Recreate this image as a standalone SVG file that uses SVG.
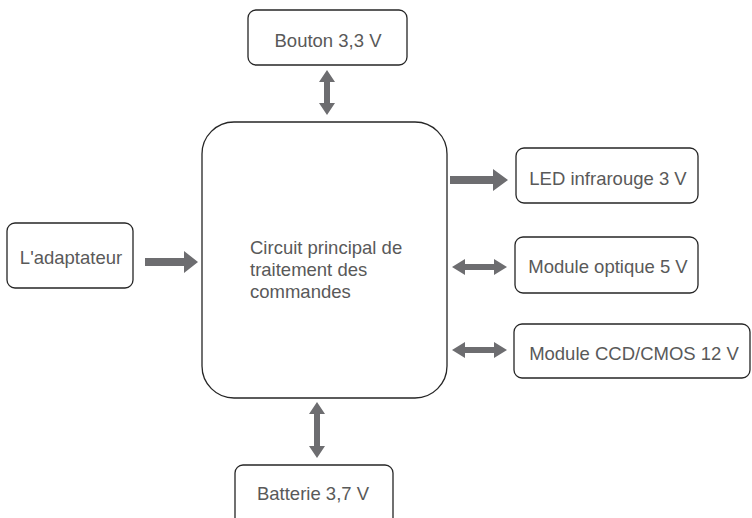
<svg xmlns="http://www.w3.org/2000/svg" width="752" height="518" viewBox="0 0 752 518">
  <style>
    .box { fill: #ffffff; stroke: #262626; stroke-width: 1.3; }
    .lbl { font-family: "Liberation Sans", Arial, sans-serif; font-size: 18.5px; fill: #595959; }
    .mid { text-anchor: middle; }
    .arrow { fill: #6d6d70; stroke: none; }
  </style>
  <rect width="752" height="518" fill="#ffffff"/>

  <g id="connectors">
    <!-- Bouton <-> main -->
    <path class="arrow" d="M327,70 L335,82 H330 V103 H335 L327,115 L319,103 H324 V82 H319 Z"/>
    <!-- adaptateur -> main -->
    <path class="arrow" d="M145,258 H184 V251 L198,262 L184,273 V266 H145 Z"/>
    <!-- main -> LED -->
    <path class="arrow" d="M450,176 H493 V169 L508,180 L493,191 V184 H450 Z"/>
    <!-- main <-> module optique -->
    <path class="arrow" d="M452,267 L465,259 V264 H494 V259 L507,267 L494,275 V270 H465 V275 Z"/>
    <!-- main <-> CCD/CMOS -->
    <path class="arrow" d="M452,350 L465,342 V347 H494 V342 L507,350 L494,358 V353 H465 V358 Z"/>
    <!-- main <-> batterie -->
    <path class="arrow" d="M317,402 L325,414 H320 V446 H325 L317,458 L309,446 H314 V414 H309 Z"/>
  </g>

  <g id="main">
    <rect class="box" x="202" y="122" width="245" height="276" rx="32" ry="32"/>
    <text class="lbl" x="250" y="254">Circuit principal de</text>
    <text class="lbl" x="250" y="276">traitement des</text>
    <text class="lbl" x="250" y="298">commandes</text>
  </g>

  <g id="bouton">
    <rect class="box" x="248" y="10" width="159" height="55" rx="8" ry="8"/>
    <text class="lbl mid" x="328" y="47">Bouton 3,3 V</text>
  </g>

  <g id="adaptateur">
    <rect class="box" x="7" y="223" width="126" height="65" rx="8" ry="8"/>
    <text class="lbl mid" x="71" y="264">L'adaptateur</text>
  </g>

  <g id="led">
    <rect class="box" x="516" y="148" width="182" height="55" rx="8" ry="8"/>
    <text class="lbl mid" x="608" y="185">LED infrarouge 3 V</text>
  </g>

  <g id="optique">
    <rect class="box" x="515" y="237" width="183" height="56" rx="8" ry="8"/>
    <text class="lbl mid" x="608" y="273">Module optique 5 V</text>
  </g>

  <g id="ccd">
    <rect class="box" x="514" y="324" width="236" height="54" rx="8" ry="8"/>
    <text class="lbl mid" x="634" y="360">Module CCD/CMOS 12 V</text>
  </g>

  <g id="batterie">
    <rect class="box" x="235" y="465" width="158" height="65" rx="8" ry="8"/>
    <text class="lbl mid" x="313" y="500">Batterie 3,7 V</text>
  </g>
</svg>
